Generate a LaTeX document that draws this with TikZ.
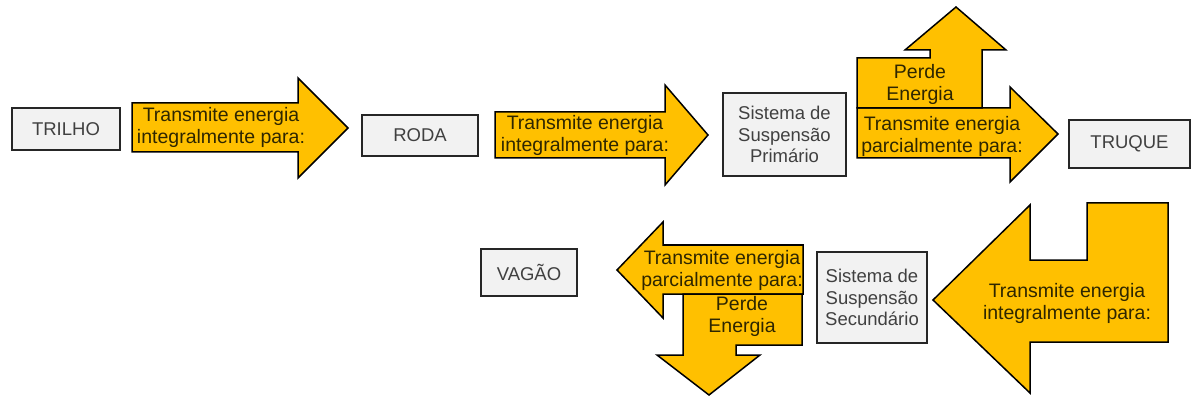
\documentclass[tikz,border=0pt]{standalone}
\usepackage{fontspec}
\setmainfont{Liberation Sans}
\definecolor{boxfill}{HTML}{F2F2F2}
\definecolor{boxline}{HTML}{262626}
\definecolor{boxtext}{HTML}{404040}
\definecolor{arrfill}{HTML}{FFC000}
\definecolor{arrtext}{HTML}{2E2600}
\begin{document}
\begin{tikzpicture}[x=1pt,y=-1pt,
  blk/.style={draw=boxline,line width=1.8pt,fill=boxfill,text=boxtext,align=center,
    inner sep=0pt,font=\fontsize{18.5}{21.5}\selectfont},
  arr/.style={draw=black,line width=1.5pt,fill=arrfill,line join=miter},
  atext/.style={text=arrtext,align=center,inner sep=0pt,font=\fontsize{19.5}{22}\selectfont}]
\useasboundingbox (0,0) rectangle (1194,398);
% boxes
\node[blk,minimum width=108pt,minimum height=42pt] (trilho) at (66,129) {TRILHO};
\node[blk,minimum width=116pt,minimum height=41pt] (roda) at (420,135.5) {RODA};
\node[blk,minimum width=123pt,minimum height=83pt] (sp) at (784.5,134.5) {Sistema de\\Suspensão\\Primário};
\node[blk,minimum width=121pt,minimum height=48pt] (truque) at (1129.5,144) {TRUQUE};
\node[blk,minimum width=96pt,minimum height=47pt] (vagao) at (529,272.5) {VAGÃO};
\node[blk,minimum width=110pt,minimum height=91pt] (ss) at (872,297.5) {Sistema de\\Suspensão\\Secundário};
% arrows
\draw[arr] (132,103) -- (298,103) -- (298,78) -- (348,128) -- (298,178) -- (298,152) -- (132,152) -- cycle;
\draw[arr] (495,112) -- (665,112) -- (665,85) -- (708,135) -- (665,185) -- (665,158) -- (495,158) -- cycle;
\draw[arr] (857,108) -- (1010,108) -- (1010,87) -- (1058,134) -- (1010,182) -- (1010,158) -- (857,158) -- cycle;
\draw[arr] (857,108) -- (857,58) -- (930,58) -- (930,50) -- (905,50) -- (956,7) -- (1006,50) -- (982,50) -- (982,108) -- cycle;
\draw[arr] (803,245) -- (663,245) -- (663,222) -- (617,270) -- (663,318) -- (663,294) -- (803,294) -- cycle;
\draw[arr] (683,294) -- (802,294) -- (802,345) -- (736,345) -- (736,355) -- (760,355) -- (709,395) -- (657,355) -- (683,355) -- cycle;
\draw[arr] (933,300) -- (1030,205) -- (1030,260) -- (1087,260) -- (1087,203) -- (1168,203) -- (1168,342) -- (1030,342) -- (1030,393) -- cycle;
% arrow texts
\node[atext] (t1) at (221,127) {Transmite energia\\integralmente para:};
\node[atext] (t2) at (585,135) {Transmite energia\\integralmente para:};
\node[atext] (t3) at (942,136) {Transmite energia\\parcialmente para:};
\node[atext] (p1) at (920,84) {Perde\\Energia};
\node[atext] (t4) at (722,270) {Transmite energia\\parcialmente para:};
\node[atext] (p2) at (742,316) {Perde\\Energia};
\node[atext] (t5) at (1067,303) {Transmite energia\\integralmente para:};
\end{tikzpicture}
\end{document}
